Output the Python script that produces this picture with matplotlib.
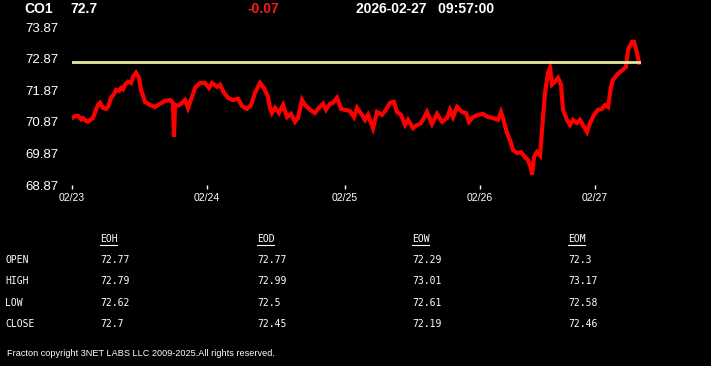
import matplotlib
matplotlib.use("Agg")
import matplotlib.pyplot as plt

# ---- data (bar index from start, price) ----
bar_index = [0, 3, 6, 9, 11, 14, 16, 19, 21, 24, 26, 28, 31, 34, 36, 39, 42, 44, 47, 49, 51, 53, 56, 59, 61,
             64, 67, 69, 71, 73, 78, 83, 88, 93, 98, 101, 102, 103, 106, 109, 113, 116, 120, 123, 128, 133,
             137, 140, 145, 148, 152, 156, 161, 166, 170, 175, 179, 183, 188, 192, 196, 198, 200, 203, 207,
             211, 215, 219, 223, 226, 230, 233, 238, 243, 246, 251, 254, 258, 261, 265, 269, 273, 278, 282,
             285, 290, 293, 296, 301, 305, 310, 314, 318, 322, 325, 329, 333, 336, 341, 345, 348, 351, 355,
             360, 365, 370, 375, 378, 381, 385, 390, 394, 397, 401, 406, 411, 416, 421, 426, 429, 431, 435,
             438, 441, 445, 449, 453, 456, 459, 460, 462, 465, 468, 470, 473, 476, 478, 480, 483, 486, 489,
             491, 495, 498, 501, 505, 508, 511, 515, 518, 522, 526, 530, 533, 536, 539, 541, 545, 548, 551,
             554, 556, 560, 562, 565, 567]
price = [70.99, 71.05, 71.06, 70.95, 70.99, 70.90, 70.87, 70.95, 70.99, 71.25, 71.40, 71.47, 71.31, 71.28,
         71.34, 71.63, 71.75, 71.88, 71.85, 71.94, 71.90, 72.04, 72.14, 72.10, 72.29, 72.42, 72.26, 71.88,
         71.70, 71.50, 71.40, 71.34, 71.44, 71.53, 71.56, 71.47, 70.39, 71.40, 71.38, 71.44, 71.56, 71.31,
         71.66, 71.94, 72.10, 72.10, 71.94, 72.10, 71.98, 72.04, 71.79, 71.63, 71.56, 71.60, 71.37, 71.28,
         71.40, 71.79, 72.10, 71.94, 71.66, 71.30, 71.15, 71.31, 71.15, 71.40, 71.02, 71.12, 70.87, 70.99,
         71.56, 71.40, 71.25, 71.15, 71.28, 71.44, 71.25, 71.44, 71.47, 71.63, 71.28, 71.25, 71.21, 71.02,
         71.31, 71.09, 70.93, 71.09, 70.67, 71.18, 71.09, 71.25, 71.47, 71.50, 71.18, 71.09, 70.77, 70.93,
         70.67, 70.77, 70.80, 70.93, 71.18, 70.80, 71.12, 70.87, 70.99, 71.25, 71.02, 71.34, 71.18, 71.15,
         70.87, 71.02, 71.09, 71.12, 71.02, 70.99, 70.93, 71.18, 70.99, 70.52, 70.29, 69.98, 69.88, 69.91,
         69.75, 69.66, 69.40, 69.20, 69.75, 69.91, 69.80, 70.61, 71.79, 72.42, 72.58, 72.05, 72.14, 72.26,
         72.04, 71.25, 70.93, 70.77, 70.93, 70.83, 70.93, 70.77, 70.55, 70.83, 71.09, 71.25, 71.28, 71.40,
         71.34, 71.98, 72.20, 72.36, 72.45, 72.52, 72.61, 73.15, 73.40, 73.40, 73.05, 72.74]
prev_close = 72.77
tick_pos = [0, 135, 273, 408, 523]
tick_labels = ["02/23", "02/24", "02/25", "02/26", "02/27"]
y_ticks = [68.87, 69.87, 70.87, 71.87, 72.87, 73.87]

symbol = "CO1"
last = "72.7"
change = "-0.07"
stamp = "2026-02-27   09:57:00"

col_heads = ["EOH", "EOD", "EOW", "EOM"]
row_heads = ["OPEN", "HIGH", "LOW", "CLOSE"]
eoh = ["72.77", "72.79", "72.62", "72.7"]
eod = ["72.77", "72.99", "72.5", "72.45"]
eow = ["72.29", "73.01", "72.61", "72.19"]
eom = ["72.3", "73.17", "72.58", "72.46"]
footer = "Fracton copyright 3NET LABS LLC 2009-2025.All rights reserved."

W, H = 711, 366
fig = plt.figure(figsize=(W / 100, H / 100), dpi=100, facecolor="black")

def fx(px):
    return px / W

def fy(py):
    return 1 - py / H

ax = fig.add_axes([fx(72), fy(185), fx(650) - fx(72), fy(27) - fy(185)])
ax.set_facecolor("black")
ax.plot(bar_index, price, color="#ff0000", lw=3, solid_joinstyle="miter")
ax.plot([bar_index[0], bar_index[-1]], [prev_close, prev_close], color="#e8e8a0", lw=2)
ax.set_xlim(0, 578)
ax.set_ylim(68.87, 73.87)
for s in ax.spines.values():
    s.set_visible(False)
ax.set_yticks(y_ticks)
ax.set_yticklabels([f"{v:.2f}" for v in y_ticks], color="white",
                   fontsize=9.5, family=["Liberation Sans", "DejaVu Sans"])
ax.tick_params(axis="y", length=0, pad=10)
ax.set_xticks(tick_pos)
ax.set_xticklabels(tick_labels, color="white", fontsize=7.5, family=["Liberation Sans", "DejaVu Sans"])
ax.tick_params(axis="x", length=3, width=1, color="white", direction="out", pad=3)

hdr = dict(color="white", fontsize=10, fontweight="bold", va="center",
           family=["Liberation Sans", "DejaVu Sans"])
fig.text(fx(24), fy(9), symbol, **hdr)
fig.text(fx(70), fy(9), last, **hdr)
fig.text(fx(247), fy(9), change, **{**hdr, "color": "#ff1a1a"})
fig.text(fx(356), fy(9), stamp, **hdr)

mono = dict(color="white", fontsize=7, va="center", family=["DejaVu Sans Mono"])
col_x = [100, 257, 412, 568]
row_y = [260, 281, 303, 324]
cols = [eoh, eod, eow, eom]
for cx, head, vals in zip(col_x, col_heads, cols):
    fig.text(fx(cx), fy(239), head, **mono)
    fig.add_artist(plt.Line2D([fx(cx), fx(cx + 17)], [fy(245), fy(245)], color="white", lw=0.8))
    for ry, v in zip(row_y, vals):
        fig.text(fx(cx), fy(ry), v, **mono)
for ry, rh in zip(row_y, row_heads):
    fig.text(fx(5), fy(ry), rh, **mono)

fig.text(fx(7), fy(354), footer, color="white", fontsize=6.6, va="center",
         family=["Liberation Sans", "DejaVu Sans"])

fig.savefig("out.png", dpi=100, facecolor="black")
